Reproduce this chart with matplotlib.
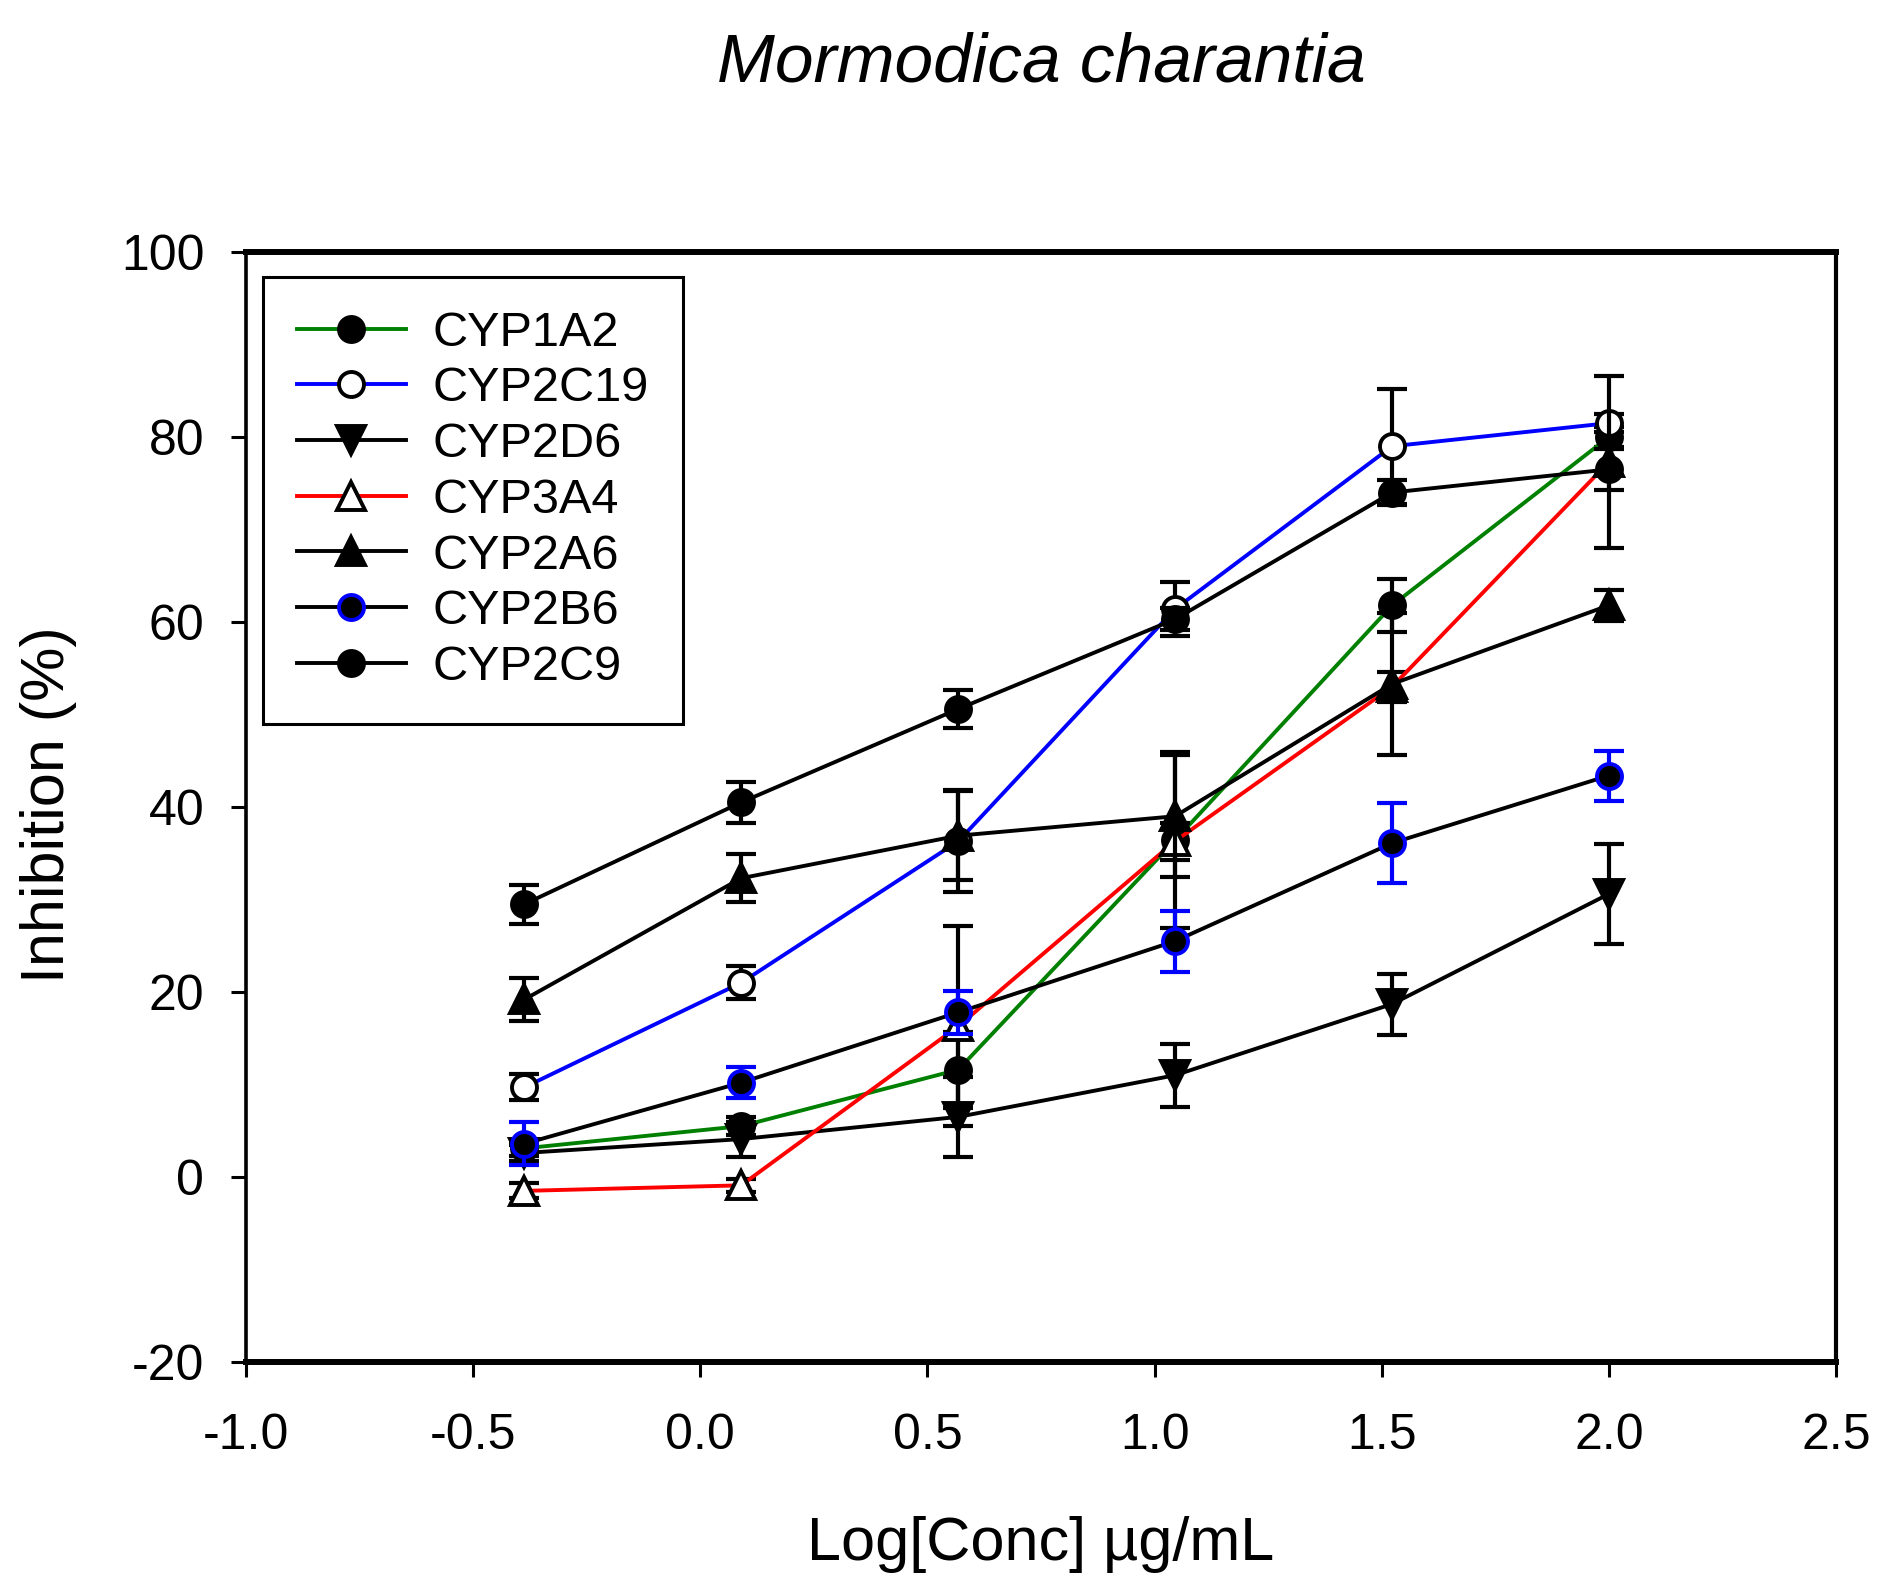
import matplotlib
matplotlib.use("Agg")
import matplotlib.pyplot as plt

plt.rcParams["font.family"] = ["Liberation Sans", "DejaVu Sans"]
plt.rcParams["axes.unicode_minus"] = False

# log10 of concentration (ug/mL)
log_conc = [-0.387, 0.090, 0.568, 1.045, 1.523, 2.000]

series_names = ["CYP1A2", "CYP2C19", "CYP2D6", "CYP3A4", "CYP2A6", "CYP2B6", "CYP2C9"]

cyp1a2 = [3.1, 5.5, 11.6, 36.4, 61.8, 80.0]
cyp1a2_err = [0.8, 1.0, 4.1, 9.5, 2.9, 1.1]
cyp2c19 = [9.7, 21.0, 36.3, 61.4, 79.0, 81.5]
cyp2c19_err = [1.4, 1.8, 5.5, 2.9, 6.2, 1.0]
cyp2d6 = [2.6, 4.1, 6.5, 11.0, 18.7, 30.6]
cyp2d6_err = [0.9, 1.9, 4.3, 3.4, 3.3, 5.4]
cyp3a4 = [-1.5, -0.9, 16.3, 36.3, 53.0, 77.3]
cyp3a4_err = [0.8, 0.7, 10.8, 2.0, 1.6, 9.3]
cyp2a6 = [19.2, 32.3, 36.9, 39.0, 53.3, 61.8]
cyp2a6_err = [2.3, 2.6, 4.8, 6.6, 7.7, 1.7]
cyp2b6 = [3.6, 10.2, 17.8, 25.5, 36.1, 43.4]
cyp2b6_err = [2.3, 1.7, 2.3, 3.3, 4.3, 2.7]
cyp2c9 = [29.5, 40.5, 50.6, 60.3, 74.0, 76.5]
cyp2c9_err = [2.1, 2.2, 2.1, 1.2, 1.3, 2.2]

values = [cyp1a2, cyp2c19, cyp2d6, cyp3a4, cyp2a6, cyp2b6, cyp2c9]
errors = [cyp1a2_err, cyp2c19_err, cyp2d6_err, cyp3a4_err, cyp2a6_err, cyp2b6_err, cyp2c9_err]

x_ticks = [-1.0, -0.5, 0.0, 0.5, 1.0, 1.5, 2.0, 2.5]
y_ticks = [-20, 0, 20, 40, 60, 80, 100]

# (line colour, marker, face, edge, error bar colour)
styles = [
    ("#008000", "o", "black", "black", "black"),
    ("#0000ff", "o", "white", "black", "black"),
    ("black", "v", "black", "black", "black"),
    ("#ff0000", "^", "white", "black", "black"),
    ("black", "^", "black", "black", "black"),
    ("black", "o", "black", "#0000ff", "#0000ff"),
    ("black", "o", "black", "black", "black"),
]

W, H = 1882, 1593
fig = plt.figure(figsize=(W / 100, H / 100), dpi=100)
ax = fig.add_axes([246 / W, 1 - 1362 / H, (1836 - 246) / W, (1362 - 252) / H])

for i, (name, y, e) in enumerate(zip(series_names, values, errors)):
    lc, mk, mfc, mec, ec = styles[i]
    z = 3 + i
    ax.errorbar(log_conc, y, yerr=e, fmt="none", ecolor=ec, elinewidth=3,
                capsize=11, capthick=3, zorder=z)
    ms = 19.5 if mk in ("^", "v") else 18
    ax.plot(log_conc, y, color=lc, lw=2.8, marker=mk, ms=ms, mfc=mfc, mec=mec,
            mew=2.8, label=name, zorder=z + 0.5)

ax.set_xlim(-1.0, 2.5)
ax.set_ylim(-20, 100)
ax.set_xticks(x_ticks)
ax.set_xticklabels([f"{t:.1f}" for t in x_ticks])
ax.set_yticks(y_ticks)
ax.set_yticklabels([str(t) for t in y_ticks])
ax.tick_params(axis="both", direction="out", length=11, width=2.2, labelsize=36)
ax.tick_params(axis="x", pad=26)
ax.tick_params(axis="y", pad=19)

ax.spines["top"].set_linewidth(4.3)
ax.spines["bottom"].set_linewidth(4.3)
ax.spines["left"].set_linewidth(2.6)
ax.spines["right"].set_linewidth(3.0)

leg = ax.legend(loc="upper left", bbox_to_anchor=(262.6 / W, 1 - 276.7 / H),
                bbox_transform=fig.transFigure, borderaxespad=0, fontsize=35,
                handlelength=2.25, handletextpad=0.55, borderpad=0.7,
                labelspacing=0.22, fancybox=False, framealpha=1, edgecolor="black")
leg.get_frame().set_linewidth(2.2)

fig.text(1041 / W, 1 - 82 / H, "Mormodica charantia", fontsize=50, style="italic",
         ha="center", va="baseline")
fig.text(1041 / W, 1 - 1560 / H, "Log[Conc] µg/mL", fontsize=44,
         ha="center", va="baseline")
fig.text(49 / W, 1 - 805 / H, "Inhibition (%)", fontsize=44, rotation=90,
         ha="center", va="center")

fig.savefig("out.png", dpi=100)
